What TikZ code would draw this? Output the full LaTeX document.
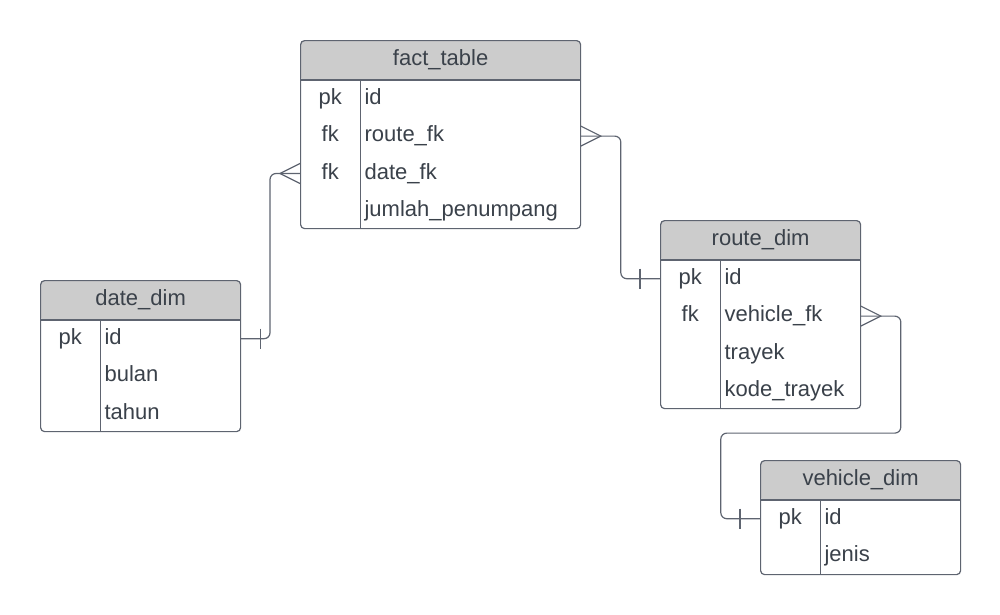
\documentclass[tikz,border=0pt]{standalone}
\usepackage{fontspec}
\setmainfont{Liberation Sans}
\usetikzlibrary{calc}
\definecolor{lineC}{HTML}{5E6470}
\definecolor{textC}{HTML}{3A414A}
\definecolor{hdrC}{HTML}{CCCCCC}
\begin{document}
\begin{tikzpicture}[x=1pt,y=-1pt,
  font=\fontsize{22}{26}\selectfont, text=textC,
  tbox/.style={draw=lineC, line width=1.2pt, rounded corners=4pt, fill=white,
    inner sep=0pt, anchor=north west,
    path picture={\fill[hdrC] (path picture bounding box.north west) rectangle ([yshift=-40pt]path picture bounding box.north east);}},
  title/.style={inner sep=0pt, text height=15.7pt, text depth=4.6pt},
  kcell/.style={inner sep=0pt, minimum width=60pt, minimum height=37pt, anchor=north west, text height=15.7pt, text depth=4.6pt},
  ncell/.style={inner xsep=4pt, inner ysep=0pt, text width=#1, align=left, minimum height=37pt, anchor=north west, text height=15.7pt, text depth=4.6pt},
  sep/.style={draw=lineC, line width=1.2pt},
  conn/.style={draw=lineC, line width=1.2pt, rounded corners=6pt},
  endmark/.style={draw=lineC, line width=1.2pt}
]
\useasboundingbox (0,0) rectangle (1000,614);

% ---------- fact_table ----------
\node[tbox, minimum width=280pt, minimum height=188pt] (fact) at (300,40) {};
\node[title] (fact-t) at ([yshift=-20pt]fact.north) {fact\_table};
\node[kcell] (fact-id-k) at ([yshift=-40pt]fact.north west) {pk};
\node[ncell=212pt] (fact-id-n) at (fact-id-k.north east) {id};
\node[kcell] (fact-route-k) at (fact-id-k.south west) {fk};
\node[ncell=212pt] (fact-route-n) at (fact-route-k.north east) {route\_fk};
\node[kcell] (fact-date-k) at (fact-route-k.south west) {fk};
\node[ncell=212pt] (fact-date-n) at (fact-date-k.north east) {date\_fk};
\node[kcell] (fact-jp-k) at (fact-date-k.south west) {};
\node[ncell=212pt] (fact-jp-n) at (fact-jp-k.north east) {jumlah\_penumpang};
\draw[sep] ([yshift=-40pt]fact.north west) -- ([yshift=-40pt]fact.north east);
\draw[sep] (fact-id-k.north east) -- (fact-id-k.north east |- fact.south);

% ---------- date_dim ----------
\node[tbox, minimum width=200pt, minimum height=151pt] (date) at (40,280) {};
\node[title] (date-t) at ([yshift=-20pt]date.north) {date\_dim};
\node[kcell] (date-id-k) at ([yshift=-40pt]date.north west) {pk};
\node[ncell=132pt] (date-id-n) at (date-id-k.north east) {id};
\node[kcell] (date-b-k) at (date-id-k.south west) {};
\node[ncell=132pt] (date-b-n) at (date-b-k.north east) {bulan};
\node[kcell] (date-t-k) at (date-b-k.south west) {};
\node[ncell=132pt] (date-t-n) at (date-t-k.north east) {tahun};
\draw[sep] ([yshift=-40pt]date.north west) -- ([yshift=-40pt]date.north east);
\draw[sep] (date-id-k.north east) -- (date-id-k.north east |- date.south);

% ---------- route_dim ----------
\node[tbox, minimum width=200pt, minimum height=188pt] (route) at (660,220) {};
\node[title] (route-t) at ([yshift=-20pt]route.north) {route\_dim};
\node[kcell] (route-id-k) at ([yshift=-40pt]route.north west) {pk};
\node[ncell=132pt] (route-id-n) at (route-id-k.north east) {id};
\node[kcell] (route-veh-k) at (route-id-k.south west) {fk};
\node[ncell=132pt] (route-veh-n) at (route-veh-k.north east) {vehicle\_fk};
\node[kcell] (route-tr-k) at (route-veh-k.south west) {};
\node[ncell=132pt] (route-tr-n) at (route-tr-k.north east) {trayek};
\node[kcell] (route-kt-k) at (route-tr-k.south west) {};
\node[ncell=132pt] (route-kt-n) at (route-kt-k.north east) {kode\_trayek};
\draw[sep] ([yshift=-40pt]route.north west) -- ([yshift=-40pt]route.north east);
\draw[sep] (route-id-k.north east) -- (route-id-k.north east |- route.south);

% ---------- vehicle_dim ----------
\node[tbox, minimum width=200pt, minimum height=114pt] (veh) at (760,460) {};
\node[title] (veh-t) at ([yshift=-20pt]veh.north) {vehicle\_dim};
\node[kcell] (veh-id-k) at ([yshift=-40pt]veh.north west) {pk};
\node[ncell=132pt] (veh-id-n) at (veh-id-k.north east) {id};
\node[kcell] (veh-j-k) at (veh-id-k.south west) {};
\node[ncell=132pt] (veh-j-n) at (veh-j-k.north east) {jenis};
\draw[sep] ([yshift=-40pt]veh.north west) -- ([yshift=-40pt]veh.north east);
\draw[sep] (veh-id-k.north east) -- (veh-id-k.north east |- veh.south);

% ---------- connectors ----------
% fact.date_fk  >|--|  date_dim.id
\draw[conn] (fact-date-k.west) -- ++(-30,0) |- (date-id-n.east);
\draw[endmark] ([yshift=10pt]fact-date-k.west) -- ([xshift=-20pt]fact-date-k.west) -- ([yshift=-10pt]fact-date-k.west);
\draw[endmark] ([xshift=20pt,yshift=10pt]date-id-n.east) -- ([xshift=20pt,yshift=-10pt]date-id-n.east);

% fact.route_fk  >--|  route_dim.id
\draw[conn] (fact-route-n.east) -- ++(40,0) |- (route-id-k.west);
\draw[endmark] ([yshift=10pt]fact-route-n.east) -- ([xshift=20pt]fact-route-n.east) -- ([yshift=-10pt]fact-route-n.east);
\draw[endmark] ([xshift=-20pt,yshift=10pt]route-id-k.west) -- ([xshift=-20pt,yshift=-10pt]route-id-k.west);

% route.vehicle_fk  >--|  vehicle_dim.id
\draw[conn] (route-veh-n.east) -- ++(40,0) -- ++(0,117) -- ++(-180,0) |- (veh-id-k.west);
\draw[endmark] ([yshift=10pt]route-veh-n.east) -- ([xshift=20pt]route-veh-n.east) -- ([yshift=-10pt]route-veh-n.east);
\draw[endmark] ([xshift=-20pt,yshift=10pt]veh-id-k.west) -- ([xshift=-20pt,yshift=-10pt]veh-id-k.west);
\end{tikzpicture}
\end{document}
